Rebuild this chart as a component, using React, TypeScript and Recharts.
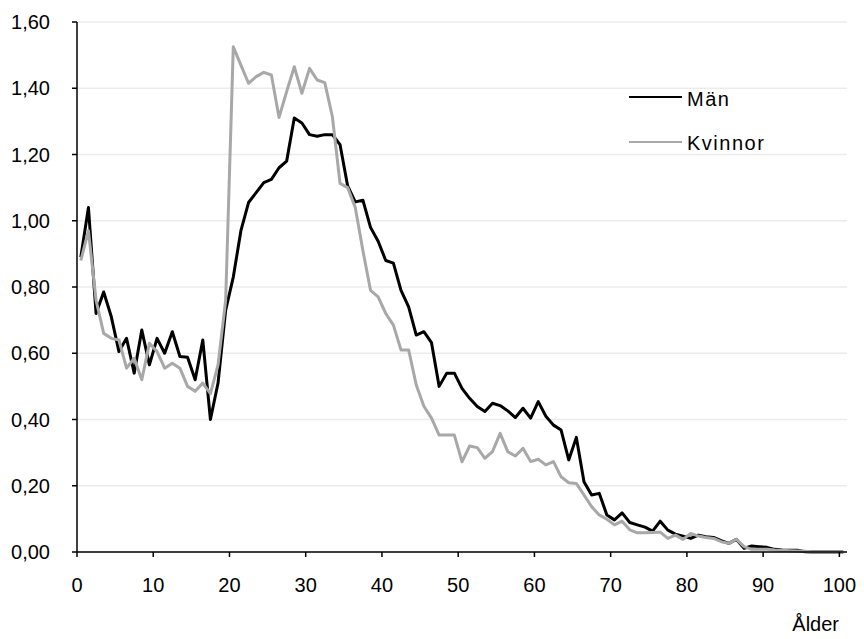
import { CartesianGrid, Legend, Line, LineChart, XAxis, YAxis } from "recharts";

// Ettåriga åldersklasser 0–100; varje punkt ritas mitt i sin klass.
const ages = Array.from({ length: 101 }, (_, i) => i);

const man = [
  0.89, 1.04, 0.72, 0.785, 0.71, 0.605, 0.645, 0.54, 0.67, 0.565,
  0.645, 0.6, 0.665, 0.59, 0.588, 0.52, 0.64, 0.4, 0.51, 0.73,
  0.83, 0.97, 1.055, 1.085, 1.115, 1.125, 1.16, 1.18, 1.31, 1.295,
  1.26, 1.255, 1.26, 1.26, 1.23, 1.105, 1.057, 1.062, 0.98, 0.938,
  0.88, 0.872, 0.79, 0.74, 0.655, 0.665, 0.632, 0.5, 0.54, 0.54,
  0.494, 0.464, 0.439, 0.424, 0.449, 0.442, 0.426, 0.406, 0.434, 0.404,
  0.454, 0.41, 0.383, 0.368, 0.278, 0.346, 0.212, 0.172, 0.177, 0.112,
  0.097, 0.118, 0.089, 0.082, 0.075, 0.063, 0.093, 0.066, 0.054, 0.048,
  0.041, 0.051, 0.046, 0.044, 0.034, 0.026, 0.038, 0.011, 0.018, 0.016,
  0.014, 0.008, 0.006, 0.005, 0.005, 0.001, 0, 0, 0, 0,
  0,
];

const kvinnor = [
  0.88, 0.97, 0.76, 0.66, 0.645, 0.64, 0.555, 0.585, 0.52, 0.63,
  0.605, 0.555, 0.57, 0.555, 0.5, 0.485, 0.51, 0.478, 0.565, 0.76,
  1.525, 1.47, 1.415, 1.435, 1.448, 1.44, 1.312, 1.39, 1.465, 1.385,
  1.46, 1.425, 1.417, 1.314, 1.113, 1.1, 1.04, 0.91, 0.79, 0.77,
  0.72, 0.685, 0.61, 0.61, 0.504, 0.44, 0.404, 0.353, 0.353, 0.353,
  0.272, 0.32, 0.315, 0.283, 0.303, 0.358, 0.303, 0.29, 0.313, 0.273,
  0.28, 0.263, 0.273, 0.227, 0.209, 0.207, 0.172, 0.137, 0.112, 0.099,
  0.082, 0.093, 0.067, 0.058, 0.058, 0.059, 0.06, 0.041, 0.051, 0.038,
  0.056, 0.048, 0.044, 0.041, 0.031, 0.026, 0.038, 0.016, 0.008, 0.008,
  0.008, 0.006, 0.005, 0.004, 0.003, 0.002, 0, 0, 0, 0,
  0,
];

const xTicks = [0, 10, 20, 30, 40, 50, 60, 70, 80, 90, 100];
const yTicks = [0, 0.2, 0.4, 0.6, 0.8, 1.0, 1.2, 1.4, 1.6];

const seriesNames = { man: "Män", kvinnor: "Kvinnor" };
const colors = { man: "#000000", kvinnor: "#a8a8a8" };

const data = ages.map((age, i) => ({
  x: age + 0.5,
  man: man[i],
  kvinnor: kvinnor[i],
}));

const font = "'Liberation Sans', Arial, sans-serif";
const tickStyle = { fill: "#000", fontSize: 20, fontFamily: font };

function ChartLegend() {
  const rows = [
    { name: seriesNames.man, color: colors.man },
    { name: seriesNames.kvinnor, color: colors.kvinnor },
  ];
  return (
    <div style={{ fontFamily: font, fontSize: 20, color: "#000" }}>
      {rows.map((r) => (
        <div
          key={r.name}
          style={{ display: "flex", alignItems: "center", height: 44.5 }}
        >
          <span
            style={{
              display: "inline-block",
              width: 53,
              height: 2,
              background: r.color,
              marginRight: 5,
            }}
          />
          <span style={{ letterSpacing: 1.5, lineHeight: "20px", paddingTop: 3 }}>
            {r.name}
          </span>
        </div>
      ))}
    </div>
  );
}

export default function App() {
  return (
    <div style={{ position: "absolute", left: 0, top: 0, background: "#fff" }}>
      <LineChart
        width={864}
        height={639}
        data={data}
        margin={{ top: 22, right: 17, bottom: 0, left: 0 }}
      >
        <CartesianGrid stroke="#ececec" strokeWidth={1.5} vertical={false} />
        <XAxis
          dataKey="x"
          type="number"
          domain={[0, 101]}
          ticks={xTicks}
          interval={0}
          height={87}
          axisLine={{ stroke: "#000", strokeWidth: 1.5 }}
          tickLine={{ stroke: "#000", strokeWidth: 1.5 }}
          tickSize={5}
          tickMargin={21}
          tick={tickStyle}
          label={{
            value: "Ålder",
            position: "insideBottomRight",
            offset: 8,
            fill: "#000",
            fontSize: 20,
            fontFamily: font,
          }}
        />
        <YAxis
          domain={[0, 1.6]}
          ticks={yTicks}
          interval={0}
          width={77}
          axisLine={{ stroke: "#000", strokeWidth: 1.5 }}
          tickLine={{ stroke: "#000", strokeWidth: 1.5 }}
          tickSize={5}
          tickMargin={22}
          tick={tickStyle}
          tickFormatter={(v: number) => v.toFixed(2).replace(".", ",")}
        />
        <Legend
          content={<ChartLegend />}
          layout="horizontal"
          verticalAlign="middle"
          align="center"
          wrapperStyle={{ position: "absolute", left: 629, top: 75, width: 180 }}
        />
        <Line
          name={seriesNames.man}
          dataKey="man"
          type="linear"
          stroke={colors.man}
          strokeWidth={3}
          strokeLinejoin="round"
          dot={false}
          isAnimationActive={false}
        />
        <Line
          name={seriesNames.kvinnor}
          dataKey="kvinnor"
          type="linear"
          stroke={colors.kvinnor}
          strokeWidth={3}
          strokeLinejoin="round"
          dot={false}
          isAnimationActive={false}
        />
      </LineChart>
    </div>
  );
}
